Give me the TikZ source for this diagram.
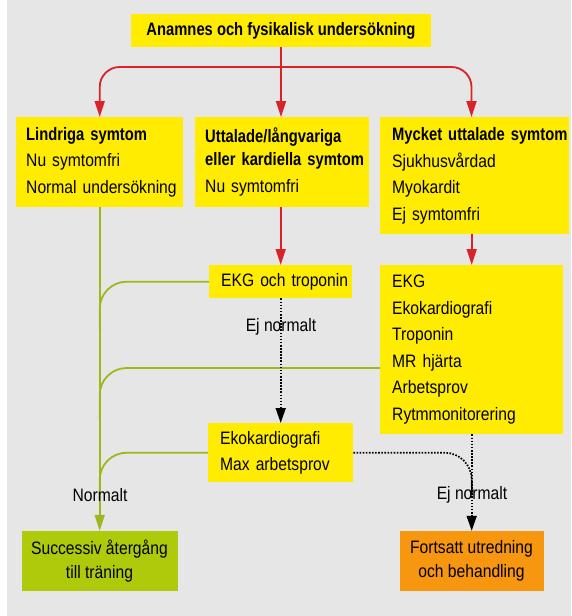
\documentclass[tikz,border=0pt]{standalone}
\usepackage{fontspec}
\setmainfont{Liberation Sans}[FakeStretch=0.87]
\newfontfamily\hd{Liberation Sans Bold}[FakeStretch=0.82]
\usetikzlibrary{arrows.meta,calc}
\definecolor{bg}{HTML}{E6E6E6}
\definecolor{ylw}{HTML}{FFEC00}
\definecolor{rd}{HTML}{D8232A}
\definecolor{gln}{HTML}{9DB81C}
\definecolor{gbox}{HTML}{AFCA0B}
\definecolor{org}{HTML}{F7960F}
\newcommand\bxf{\fontsize{18}{26.5}\selectfont}
\begin{document}
\begin{tikzpicture}[x=1pt,y=-1pt,
  bx/.style 2 args={fill=ylw, anchor=north west, inner sep=0pt, align=left,
    text width=#1, execute at begin node={\leftskip=#2pt}, font=\bxf},
  cbox/.style={inner sep=0pt, align=center, font=\fontsize{18}{24}\selectfont},
  lbl/.style={inner sep=0pt, font=\fontsize{18}{20}\selectfont},
  redl/.style={draw=rd, line width=1.8pt, -{Triangle[length=16pt,width=10pt]}},
  grl/.style={draw=gln, line width=1.8pt},
  grarr/.style={grl, -{Triangle[length=16pt,width=10pt]}},
  dotl/.style={draw=black, line width=1.7pt, dash pattern=on 1.6pt off 1.5pt},
  dotarr/.style={dotl, -{Triangle[length=15pt,width=10pt]}}]
\useasboundingbox (0,0) rectangle (571,616);
\fill[bg] (7,0) rectangle (571,616);

% boxes
\node[fill=ylw, minimum width=300pt, minimum height=33pt, inner sep=0pt,
  font=\hd\bxf] (top) at (281,30.5) {Anamnes och fysikalisk undersökning};
\node[bx={167pt}{10}, minimum height=90pt] (b1) at (16,117)
  {{\hd Lindriga symtom}\\Nu symtomfri\\Normal undersökning};
\node[bx={174pt}{10}, minimum height=90pt] (b2) at (195,117)
  {{\hd Uttalade/långvariga}\\[-3.5pt]{\hd eller kardiella symtom}\\Nu symtomfri};
\node[bx={189pt}{12}, minimum height=117pt] (b3) at (380,117)
  {{\hd Mycket uttalade symtom}\\Sjukhusvårdad\\Myokardit\\Ej symtomfri};
\node[bx={143pt}{12}, minimum height=33pt] (ekg) at (209,265) {EKG och troponin};
\node[bx={183pt}{12}, minimum height=169pt] (b4) at (380,265)
  {EKG\\Ekokardiografi\\Troponin\\MR hjärta\\Arbetsprov\\Rytmmonitorering};
\node[bx={145pt}{12}, minimum height=59pt] (eko) at (208,423)
  {Ekokardiografi\\Max arbetsprov};
\node[cbox, fill=gbox, minimum width=156pt, minimum height=60pt] (succ) at (99.5,561)
  {Successiv återgång\\till träning};
\node[cbox, fill=org, minimum width=144pt, minimum height=60pt] (fort) at (471.5,561)
  {Fortsatt utredning\\och behandling};

% red connectors
\coordinate (split) at (281,67);
\coordinate (b3in) at (471.5,117);
\draw[redl] (top.south) -- (top.south |- b2.north);
\draw[redl, rounded corners=20pt] (split) -| (b1.north);
\draw[redl, rounded corners=20pt] (split) -| (b3in);
\draw[redl] (ekg.north |- b2.south) -- (ekg.north);
\draw[redl] (b4.north |- b3.south) -- (b4.north);

% green connectors
\coordinate (m1) at ($(b1.south)+(0,123)$);
\coordinate (b4g) at (380,368);
\coordinate (m2) at ($(b1.south)+(0,213)$);
\coordinate (m3) at ($(b1.south)+(0,293)$);
\draw[grl, rounded corners=27pt] (ekg.west) -| (m1);
\draw[grl, rounded corners=27pt] (b4g) -| (m2);
\draw[grl, rounded corners=27pt] (eko.west) -| (m3);
\draw[grarr] (b1.south) -- (b1.south |- succ.north);
\node[lbl] (nl) at (100,495) {Normalt};

% dotted connectors
\coordinate (m4) at ($(b4.south)+(0,61)$);
\draw[dotarr] (ekg.south) -- (eko.north);
\node[lbl] (en1) at (281,327) {Ej normalt};
\draw[dotl, rounded corners=27pt] (eko.east) -| (m4);
\draw[dotarr] (b4.south) -- (b4.south |- fort.north);
\node[lbl] (en2) at (472,495) {Ej normalt};
\end{tikzpicture}
\end{document}
